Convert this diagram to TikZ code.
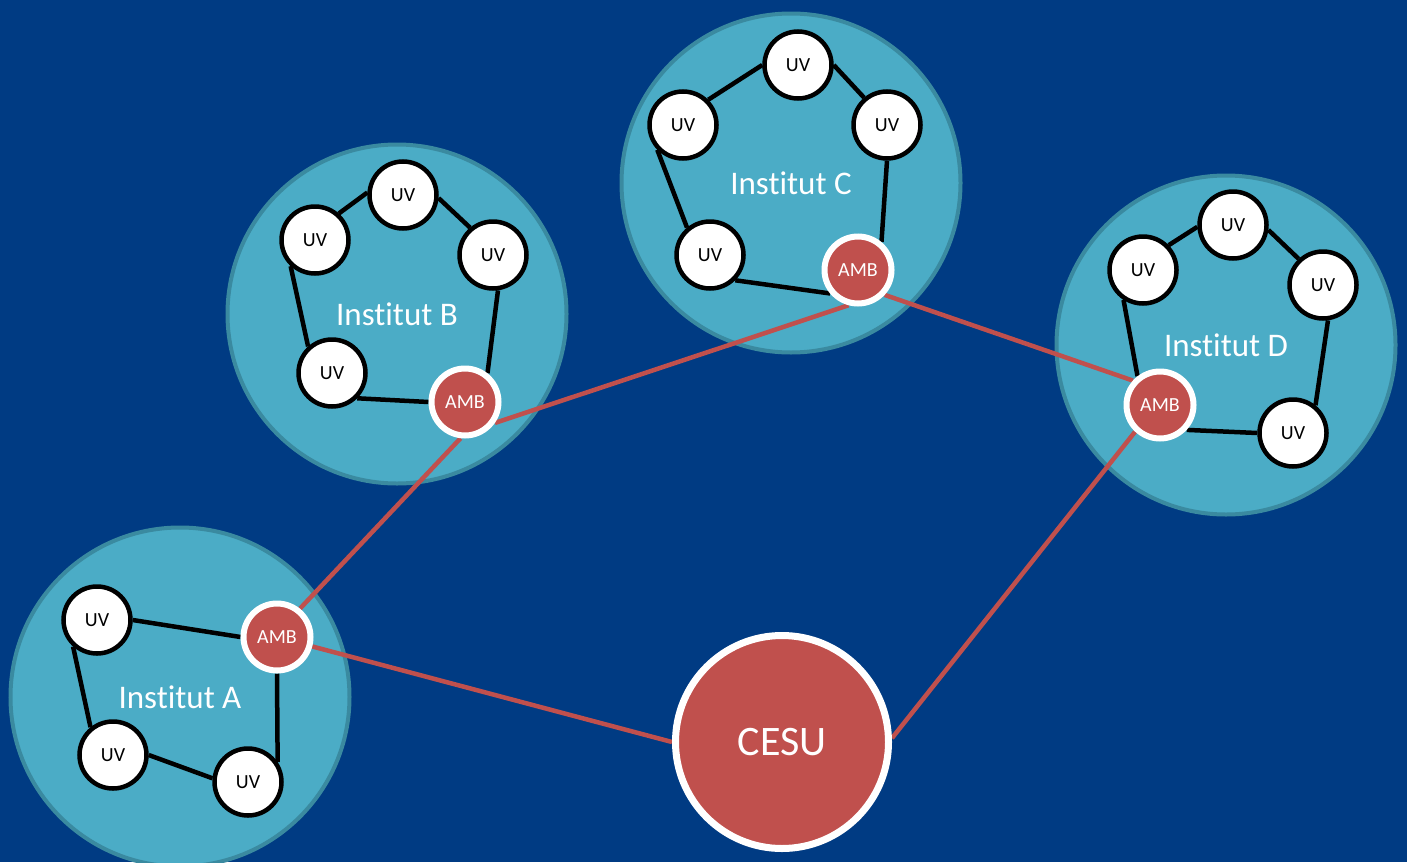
\documentclass[tikz,border=0pt]{standalone}
\usepackage{fontspec}
\setmainfont{Carlito}[Ligatures={NoCommon}]
\definecolor{bgblue}{RGB}{0,59,131}
\definecolor{instfill}{RGB}{75,172,198}
\definecolor{instdraw}{RGB}{58,138,160}
\definecolor{ambred}{RGB}{192,80,77}
\pgfdeclarelayer{back}
\pgfdeclarelayer{mid}
\pgfsetlayers{back,mid,main}
\tikzset{
  inst/.style={circle, fill=instfill, draw=instdraw, line width=4pt, minimum size=339pt, inner sep=0pt, text=white, font=\fontsize{33}{37}\selectfont},
  uv/.style={circle, fill=white, draw=black, line width=4.5pt, minimum size=67pt, inner sep=0pt, text=black, font=\fontsize{20}{22}\selectfont},
  amb/.style={circle, fill=ambred, draw=white, line width=6pt, minimum size=67pt, inner sep=0pt, text=white, font=\fontsize{20}{22}\selectfont},
  cesu/.style={circle, fill=ambred, draw=white, line width=7pt, minimum size=213pt, inner sep=0pt, text=white, font=\fontsize{42}{46}\selectfont},
  link/.style={draw=black, line width=4.5pt},
  redlink/.style={draw=ambred, line width=4.5pt},
}
\begin{document}
\begin{tikzpicture}[x=1pt,y=-1pt]
\useasboundingbox (0,0) rectangle (1407,862);
\clip (0,0) rectangle (1407,862);
\begin{pgfonlayer}{back}
\fill[bgblue] (0,0) rectangle (1407,862);
\node[inst] (IA) at (180,697) {Institut A};
\node[inst] (IB) at (397,314) {Institut B};
\node[inst] (IC) at (791,183) {Institut C};
\node[inst] (ID) at (1226,345) {Institut D};
\end{pgfonlayer}
% Institut A
\node[uv] (A1) at (97,620) {UV};
\node[uv] (A2) at (113,755) {UV};
\node[uv] (A3) at (248,782) {UV};
\node[amb] (Aa) at (277,637) {AMB};
% Institut B
\node[uv] (B1) at (403,195) {UV};
\node[uv] (B2) at (315,240) {UV};
\node[uv] (B3) at (493,255) {UV};
\node[uv] (B4) at (332,373) {UV};
\node[amb] (Ba) at (465,402) {AMB};
% Institut C
\node[uv] (C1) at (798,65) {UV};
\node[uv] (C2) at (683,125) {UV};
\node[uv] (C3) at (887,125) {UV};
\node[uv] (C4) at (710,255) {UV};
\node[amb] (Ca) at (858,270) {AMB};
% Institut D
\node[uv] (D1) at (1233,225) {UV};
\node[uv] (D2) at (1143,270) {UV};
\node[uv] (D3) at (1323,285) {UV};
\node[uv] (D4) at (1293,433) {UV};
\node[amb] (Da) at (1160,405) {AMB};
% CESU
\node[cesu] (CE) at (782,742) {CESU};
\begin{pgfonlayer}{mid}
\draw[link] (A1.east) -- (Aa.west);
\draw[link] (A1.228) -- (A2.129);
\draw[link] (A2.east) -- (A3.174);
\draw[link] (A3.34) -- (Aa.south);
\draw[link] (B2.48) -- (B1.176);
\draw[link] (B1.-5) -- (B3.130);
\draw[link] (B3.-82) -- (Ba.52);
\draw[link] (B2.227) -- (B4.132);
\draw[link] (B4.-45) -- (Ba.180);
\draw[link] (C2.45) -- (C1.180);
\draw[link] (C1.0) -- (C3.130);
\draw[link] (C3.-90) -- (Ca.50);
\draw[link] (C2.224) -- (C4.130);
\draw[link] (C4.-45) -- (Ca.220);
\draw[link] (D2.44) -- (D1.183);
\draw[link] (D1.-8) -- (D3.133);
\draw[link] (D3.-82) -- (D4.51);
\draw[link] (D2.237) -- (Da.128);
\draw[link] (Da.-43) -- (D4.180);
\draw[redlink] (Aa.51) -- (Ba.263);
\draw[redlink] (Ba.-35) -- (Ca.255);
\draw[redlink] (Ca.-43) -- (Da.138);
\draw[redlink] (Aa.-15) -- (CE.180);
\draw[redlink] (Da.227) -- (CE.2);
\end{pgfonlayer}
\end{tikzpicture}
\end{document}
